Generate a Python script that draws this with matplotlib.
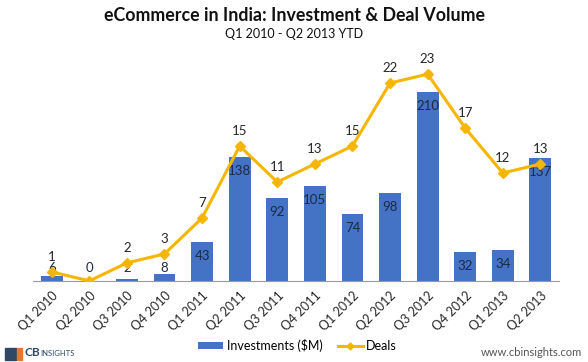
import matplotlib
matplotlib.use("Agg")
import matplotlib.pyplot as plt
from matplotlib.patches import Rectangle
import numpy as np

# данные
quarters = ["Q1 2010", "Q2 2010", "Q3 2010", "Q4 2010", "Q1 2011", "Q2 2011", "Q3 2011",
            "Q4 2011", "Q1 2012", "Q2 2012", "Q3 2012", "Q4 2012", "Q1 2013", "Q2 2013"]
investments = [6, 0, 2, 8, 43, 138, 92, 105, 74, 98, 210, 32, 34, 137]
deals = [1, 0, 2, 3, 7, 15, 11, 13, 15, 22, 23, 17, 12, 13]

plt.rcParams['font.family'] = ['Lato', 'DejaVu Sans']

BLUE = '#4472C4'
GOLD = '#F6B600'

fig = plt.figure(figsize=(5.88, 3.62), dpi=100)
ax = fig.add_axes([0.056, 0.224, 0.895, 0.621])
ax2 = ax.twinx()

x = np.arange(len(quarters))
ax.bar(x, investments, width=0.58, color=BLUE, zorder=1, label='Investments ($M)')
ax2.plot(x, deals, color=GOLD, lw=2.2, marker='D', ms=5, zorder=3, label='Deals')

ax.set_xlim(-0.5, len(quarters) - 0.5)
ax.set_ylim(0, 250)
ax2.set_ylim(0, 25)

# подписи столбцов
for xi, v in zip(x, investments):
    y_lab = max(v - 15.5, 14.5)
    ax.text(xi, y_lab, str(v), ha='center', va='center', fontsize=9.5, color='#1c2a44', zorder=5)

# подписи сделок
for xi, d in zip(x, deals):
    if d == 0:
        continue
    ax2.text(xi, d + 1.65, str(d), ha='center', va='center', fontsize=9.5, color='#262626', zorder=5)

for a in (ax, ax2):
    for s in ('top', 'right', 'left'):
        a.spines[s].set_visible(False)
    a.set_yticks([])
ax.spines['bottom'].set_color('#9a9a9a')
ax2.spines['bottom'].set_visible(False)

ax.set_xticks(x)
ax.set_xticklabels(quarters, rotation=45, ha='right', rotation_mode='anchor', fontsize=9, color='#262626')
ax.tick_params(axis='x', length=0, pad=6)

# заголовок
fig.text(0.5, 0.958, "eCommerce in India: Investment & Deal Volume", ha='center', va='center',
         fontsize=12.8, fontweight='bold', color='#111111')
fig.text(0.5, 0.906, "Q1 2010 - Q2 2013 YTD", ha='center', va='center', fontsize=9, color='#111111')

# легенда
h1, l1 = ax.get_legend_handles_labels()
h2, l2 = ax2.get_legend_handles_labels()
fig.legend(h1 + h2, l1 + l2, loc='center', bbox_to_anchor=(0.506, 0.045), ncol=2, frameon=False,
           fontsize=9, handlelength=2.0, handleheight=0.5, columnspacing=1.2, handletextpad=0.3,
           markerscale=0.7)

# логотип
fig.patches.append(Rectangle((0.009, 0.006), 0.018, 0.033, transform=fig.transFigure, color='#2f4866'))
fig.patches.append(Rectangle((0.029, 0.006), 0.009, 0.033, transform=fig.transFigure, color='#e8772e'))
fig.text(0.042, 0.025, "CB", fontsize=8.5, fontweight='bold', color='#2f4866', va='center')
fig.text(0.068, 0.023, "INSIGHTS", fontsize=5.5, color='#2f4866', va='center')
fig.text(0.99, 0.027, "www.cbinsights.com", fontsize=8, color='#555555', ha='right', va='center')

fig.savefig("out.png", dpi=100, facecolor='white')
